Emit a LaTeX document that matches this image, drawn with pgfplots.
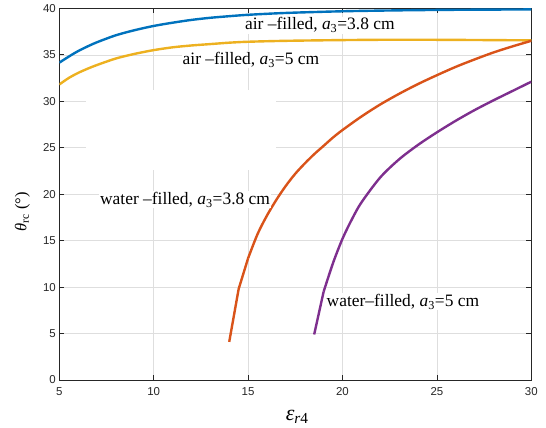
\documentclass[border=0pt]{standalone}
\usepackage{fontspec}
\setmainfont{Liberation Serif}
\newfontfamily\tickfont{Liberation Sans}
\usepackage{pgfplots}
\pgfplotsset{compat=1.18}
\definecolor{mblue}{rgb}{0,0.447,0.741}
\definecolor{morange}{rgb}{0.85,0.325,0.098}
\definecolor{myellow}{rgb}{0.929,0.694,0.125}
\definecolor{mpurple}{rgb}{0.494,0.184,0.556}
\begin{document}
\begin{tikzpicture}
\begin{axis}[
  scale only axis, width=472bp, height=371.7bp,
  xmin=5, xmax=30, ymin=0, ymax=40,
  xtick={5,10,...,30}, ytick={0,5,...,40},
  grid=major, major grid style={color=black!13, line width=0.5bp},
  tick align=inside, major tick length=5bp,
  axis line style={black!85, line width=0.6bp},
  every tick/.style={black!85, line width=0.6bp},
  tick label style={font=\tickfont\fontsize{11.5}{13}\selectfont, text=black!85},
  xticklabel style={yshift=-4bp},
  /pgf/number format/assume math mode=true,
  clip mode=individual,
]
\fill[white] (axis cs:6.42,22.6) rectangle (axis cs:16.48,31.2);
\addplot[mblue, line width=2.4bp, smooth] coordinates {
(5,34.15)(5.5,34.8)(6,35.4)(6.5,35.9)(7,36.35)(8,37.1)(9,37.65)(10,38.1)(11,38.45)(12,38.75)(13,38.98)(14,39.15)(15,39.3)(17,39.5)(20,39.68)(23,39.78)(26,39.84)(30,39.88)};
\addplot[myellow, line width=2.4bp, smooth] coordinates {
(5,31.8)(5.5,32.5)(6,33.05)(6.5,33.5)(7,33.9)(8,34.6)(9,35.1)(10,35.5)(11,35.8)(12,36.0)(13,36.15)(14,36.3)(15,36.4)(17,36.5)(20,36.58)(23,36.62)(26,36.6)(30,36.55)};
\addplot[morange, line width=2.4bp, line join=round] coordinates {
(14,4.1)(14.5,9.8)(15,13.1)};
\addplot[morange, line width=2.4bp, smooth] coordinates {
(15,13.1)(15.5,15.7)(16,17.7)(16.5,19.4)(17,20.9)(17.5,22.2)(18,23.3)(18.5,24.3)(19,25.2)(19.5,26.1)(20,26.9)(21,28.35)(22,29.65)(23,30.8)(24,31.85)(25,32.8)(26,33.7)(27,34.5)(28,35.25)(29,35.9)(30,36.5)};
\addplot[mpurple, line width=2.4bp, line join=round] coordinates {
(18.5,4.9)(19,9.5)};
\addplot[mpurple, line width=2.4bp, smooth] coordinates {
(19,9.5)(19.5,12.6)(20,15.2)(20.5,17.3)(21,19.1)(22,21.8)(23,23.75)(24,25.3)(25,26.65)(26,27.9)(27,29.05)(28,30.1)(29,31.1)(30,32.1)};
\node[fill=white, inner sep=1bp, font=\fontsize{17.5}{20}\selectfont] at (axis cs:18.8,38.2) {air –filled, \textit{a}\textsubscript{3}=3.8 cm};
\node[fill=white, inner sep=1bp, font=\fontsize{17.5}{20}\selectfont] at (axis cs:15.15,34.45) {air –filled, \textit{a}\textsubscript{3}=5 cm};
\node[fill=white, inner sep=1bp, font=\fontsize{17.5}{20}\selectfont] at (axis cs:11.66,19.4) {water –filled, \textit{a}\textsubscript{3}=3.8 cm};
\node[fill=white, inner sep=1bp, font=\fontsize{17.5}{20}\selectfont] at (axis cs:23.2,8.43) {water–filled, \textit{a}\textsubscript{3}=5 cm};
\node[rotate=90, font=\fontsize{16.5}{19}\selectfont] at ([xshift=-37bp]rel axis cs:0,0.452) {\textit{θ}\textsubscript{rc} (°)};
\node[font=\fontsize{22}{26}\selectfont] at ([yshift=-37bp]rel axis cs:0.504,0) {\textit{ε}\textsubscript{\textit{r}4}};
\path ([xshift=-59.3bp,yshift=-48bp]rel axis cs:0,0) rectangle ([xshift=14.7bp,yshift=8.3bp]rel axis cs:1,1);
\end{axis}
\end{tikzpicture}
\end{document}
